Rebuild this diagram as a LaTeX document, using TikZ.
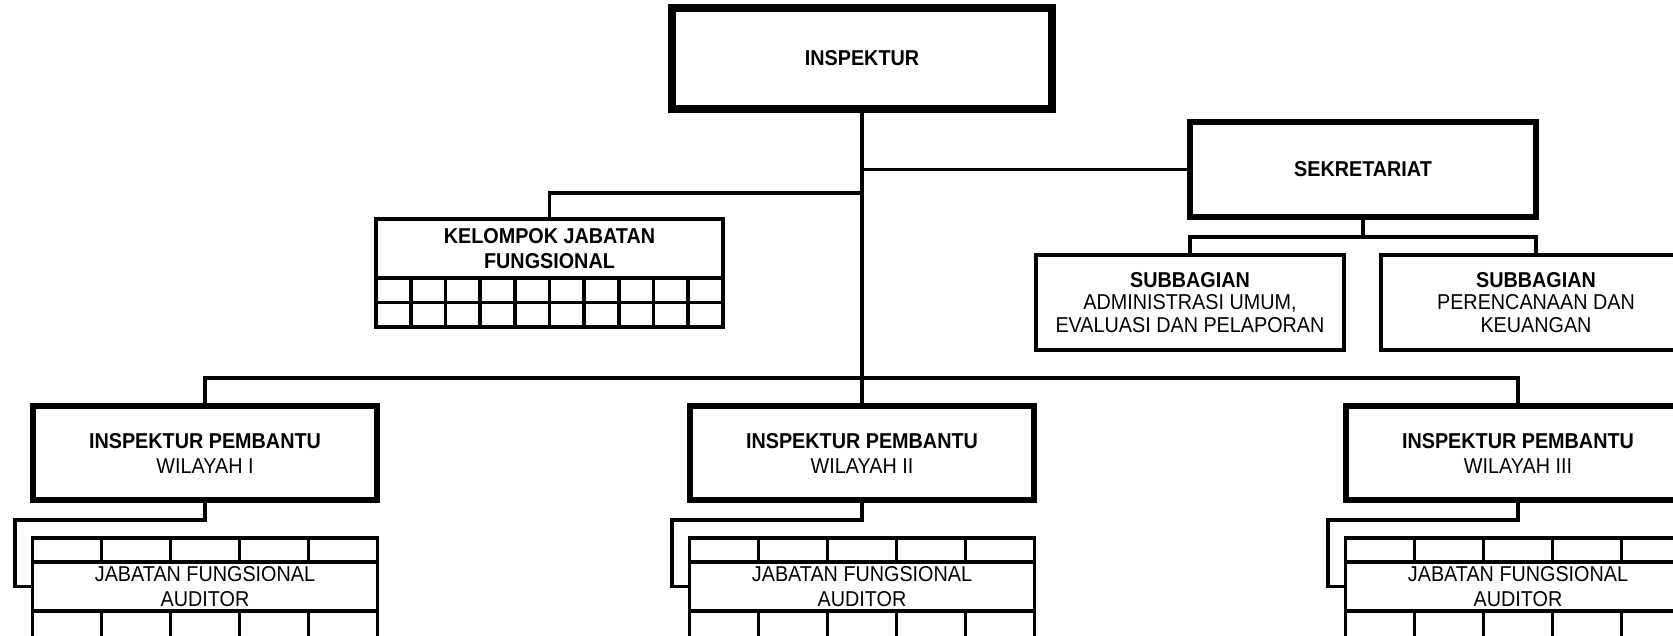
\documentclass[tikz,border=0pt]{standalone}
\usepackage{fontspec}
\setmainfont{Liberation Sans}[FakeStretch=0.92]
\usetikzlibrary{positioning,calc}
\newcommand\txt{\fontsize{21.5}{25}\selectfont}
\newcommand\subtxt{\fontsize{21.5}{22.5}\selectfont}
\tikzset{
  box/.style={draw,line width=6pt,inner sep=0pt,outer sep=0pt,align=center,font=\txt},
  topbox/.style={box,line width=8pt,minimum width=380pt,minimum height=101pt},
  sekbox/.style={box,line width=5.5pt,minimum width=346pt,minimum height=95pt},
  subbox/.style={box,line width=4pt,minimum width=308pt,minimum height=95pt,font=\subtxt},
  grpbox/.style={box,line width=3.5pt,minimum width=347pt,minimum height=59pt},
  pembbox/.style={box,minimum width=344pt,minimum height=94pt},
  jfbox/.style={box,line width=3.7pt,minimum width=345pt,minimum height=49pt},
  ln/.style={line width=3.3pt},
  grid/.style={line width=3.7pt},
}

\begin{document}
\begin{tikzpicture}[x=1pt,y=-1pt]
\useasboundingbox (0,0) rectangle (1673,635);
\clip (0,0) rectangle (1673,635);
% top and staff
\node[topbox] (insp) at (862,58.5) {\textbf{INSPEKTUR}};
\node[sekbox] (sek) at (1363,169.5) {\textbf{SEKRETARIAT}};
\node[subbox] (sub1) at (1190,302.5) {\textbf{SUBBAGIAN}\\ADMINISTRASI UMUM,\\EVALUASI DAN PELAPORAN};
\node[subbox,minimum width=310pt] (sub2) at (1536,302.5) {\textbf{SUBBAGIAN}\\PERENCANAAN DAN\\KEUANGAN};
\node[grpbox] (kjf) at (549.5,248.5) {\textbf{KELOMPOK JABATAN}\\\textbf{FUNGSIONAL}};
\draw[grid] (kjf.south west) rectangle ++(347,49);
\draw[grid] ($(kjf.south west)+(0,24.5)$) -- ++(347,0);
\foreach \k in {1,...,9}
  \draw[grid] ($(kjf.south west)+(34.7*\k,0)$) -- ++(0,49);
\coordinate (bus) at (862,378);
\coordinate (kb) at (862,193);
\coordinate (sb) at (1363,237);
% wilayah units
\foreach \i/\x/\w in {1/205/I,2/862/II,3/1518/III}{
  \node[pembbox] (ipw\i) at (\x,453) {\textbf{INSPEKTUR PEMBANTU}\\WILAYAH \w};
  \node[jfbox] (jfa\i) at (\x,586.5) {JABATAN FUNGSIONAL\\AUDITOR};
  \draw[grid] (jfa\i.north west) rectangle ++(345,-24);
  \draw[grid] (jfa\i.south west) rectangle ++(345,40);
  \foreach \k in {1,...,4}{
    \draw[grid] ($(jfa\i.north west)+(69*\k,0)$) -- ++(0,-24);
    \draw[grid] ($(jfa\i.south west)+(69*\k,0)$) -- ++(0,40);
  }
  \draw[ln] (ipw\i.south) |- ++(-190,20) |- (jfa\i.west);
}
% lines
\draw[ln] (insp.south) -- (bus);
\draw[ln] (sek.west) -- (sek.west -| insp.south);
\draw[ln] (kjf.north) |- (kb);
\draw[ln] (sek.south) -- (sb);
\draw[ln] (sub1.north) |- (sb) -| (sub2.north);
\draw[ln] (ipw1.north) |- (bus) -| (ipw3.north);
\draw[ln] (bus) -- (ipw2.north);
\end{tikzpicture}
\end{document}
